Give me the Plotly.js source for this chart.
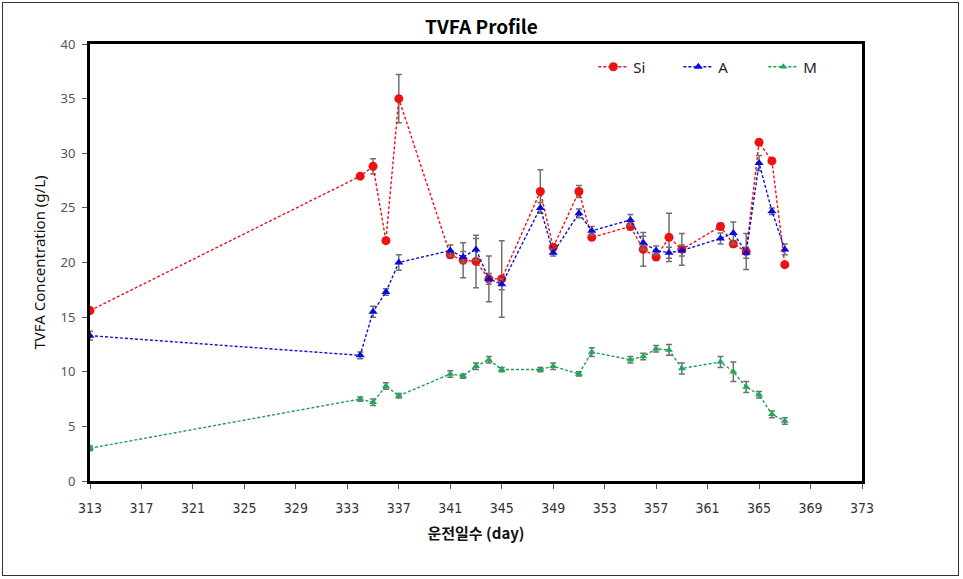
<!DOCTYPE html>
<html>
<head>
<meta charset="utf-8">
<script src="https://cdn.plot.ly/plotly-3.0.1.min.js"></script>
<style>
html,body{margin:0;padding:0;background:#fff;}
#wrap{position:relative;width:963px;height:579px;}
#chart{width:963px;height:579px;}
#frame{position:absolute;left:2px;top:2px;width:955px;height:572px;border:1px solid #333;pointer-events:none;}
</style>
</head>
<body>
<div id="wrap"><div id="chart"></div><div id="frame"></div></div>
<script>
var days = [313,334,335,336,337,341,342,343,344,345,348,349,351,352,355,356,357,358,359,362,363,364,365,366,367];
var siVals = [15.6,27.9,28.8,22.0,35.0,20.7,20.2,20.1,18.5,18.5,26.5,21.4,26.5,22.3,23.3,21.2,20.5,22.3,21.2,23.3,21.7,21.0,31.0,29.3,19.8];
var siErr  = [0,0.1,0.7,0.2,2.2,0.3,1.6,2.4,2.1,3.5,2.0,0.3,0.55,0.2,0.3,1.55,0.2,2.2,1.45,0.3,0.3,1.65,0.2,0.2,0.2];
var aVals  = [13.3,11.5,15.5,17.3,20.0,21.1,20.5,21.2,18.5,18.0,25.0,20.9,24.5,22.9,23.9,21.8,21.1,20.9,21.1,22.2,22.7,20.9,29.1,24.7,21.2];
var aErr   = [0.4,0.3,0.5,0.3,0.7,0.5,0.5,1.0,0.5,0.5,0.5,0.3,0.4,0.4,0.5,0.6,0.4,0.5,0.5,0.5,1.0,0.5,0.7,0.3,0.5];
var mVals  = [3.0,7.5,7.2,8.7,7.8,9.8,9.6,10.5,11.1,10.2,10.2,10.5,9.8,11.8,11.1,11.4,12.1,12.0,10.3,10.9,10.0,8.6,7.9,6.1,5.5];
var mErr   = [0.2,0.2,0.3,0.3,0.2,0.3,0.2,0.3,0.3,0.2,0.2,0.3,0.2,0.4,0.3,0.3,0.3,0.5,0.5,0.5,0.9,0.5,0.3,0.3,0.3];
var seriesNames = ["Si","A","M"];

function errObj(arr){
  return {type:'data', array:arr, visible:true, color:'#707070', thickness:1.5, width:3};
}
var traces = [
  {x:days, y:siVals, name:seriesNames[0], type:'scatter', mode:'lines+markers',
   line:{color:'#e8141b', dash:'3px,2px', width:1.4},
   marker:{symbol:'circle', size:9, color:'#ee1111'}, error_y:errObj(siErr)},
  {x:days, y:aVals, name:seriesNames[1], type:'scatter', mode:'lines+markers',
   line:{color:'#1111cc', dash:'3px,2px', width:1.4},
   marker:{symbol:'triangle-up', size:8, color:'#0a0adc'}, error_y:errObj(aErr)},
  {x:days, y:mVals, name:seriesNames[2], type:'scatter', mode:'lines+markers',
   line:{color:'#1f9e55', dash:'3px,2px', width:1.4},
   marker:{symbol:'triangle-up', size:7, color:'#1faa5a'}, error_y:errObj(mErr)}
];
var layout = {
  width:963, height:579,
  margin:{l:90, r:101, t:44, b:98, autoexpand:false},
  paper_bgcolor:'#fff', plot_bgcolor:'#fff',
  title:{text:'<b>TVFA Profile</b>', x:0.5, xanchor:'center', y:0.953, yanchor:'middle',
         font:{family:'Noto Sans CJK KR, Noto Sans', size:19, color:'#000'}},
  showlegend:true,
  legend:{orientation:'h', x:0.652, y:0.985, xanchor:'left', yanchor:'top',
          bgcolor:'rgba(0,0,0,0)', font:{family:'Noto Sans, Open Sans', size:15, color:'#222'},
          entrywidth:40, entrywidthmode:'pixels', tracegroupgap:0},
  xaxis:{range:[313,373], tick0:313, dtick:4, tickmode:'linear',
         showgrid:false, zeroline:false, showline:true, linecolor:'#000', linewidth:3, mirror:true,
         ticks:'outside', ticklen:5, tickcolor:'#555', tickwidth:1, ticklabelstandoff:7,
         tickfont:{family:'Liberation Sans Narrow, DejaVu Sans Condensed, Liberation Sans', size:14, color:'#333'},
         title:{text:'<b>운전일수 (day)</b>', standoff:14,
                font:{family:'Noto Sans CJK KR', size:15, color:'#111'}}},
  yaxis:{range:[0,40], tick0:0, dtick:5, tickmode:'linear',
         showgrid:false, zeroline:false, showline:true, linecolor:'#000', linewidth:3, mirror:true,
         ticks:'outside', ticklen:5, tickcolor:'#555', tickwidth:1, ticklabelstandoff:4,
         tickfont:{family:'Noto Sans, Open Sans', size:13, color:'#555'},
         title:{text:'TVFA Concentration (g/L)', standoff:12,
                font:{family:'Noto Sans, Open Sans', size:15, color:'#111'}}}
};
Plotly.newPlot('chart', traces, layout, {displayModeBar:false, staticPlot:true});
</script>
</body>
</html>
